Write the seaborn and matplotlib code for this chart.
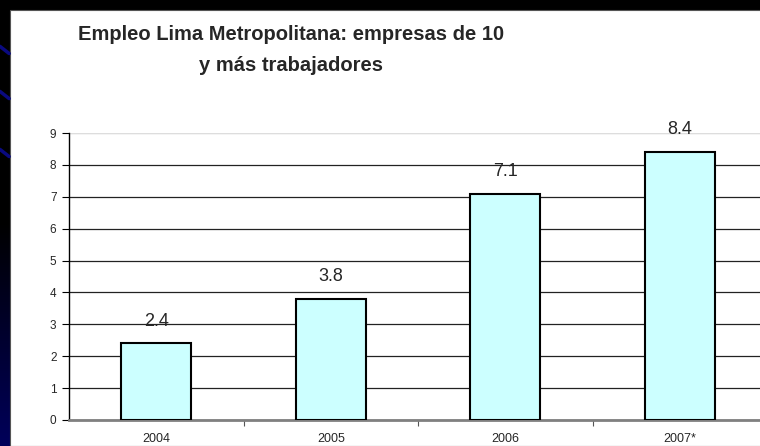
"""Empleo Lima Metropolitana: bar chart of employment growth, firms with 10+ workers."""
import numpy as np
import pandas as pd
import matplotlib
matplotlib.use("Agg")
import matplotlib.pyplot as plt
from matplotlib.patches import Rectangle
from matplotlib.ticker import FixedLocator
import seaborn as sns

years = ["2004", "2005", "2006", "2007*"]
growth = [2.4, 3.8, 7.1, 8.4]
y_ticks = [0, 1, 2, 3, 4, 5, 6, 7, 8, 9]
title = "Empleo Lima Metropolitana: empresas de 10\ny más trabajadores"

BAR = "#CCFFFF"
sns.set_style("white")
plt.rcParams["font.family"] = ["Liberation Sans", "DejaVu Sans"]

df = pd.DataFrame({"year": years, "growth": growth})

fig = plt.figure(figsize=(7.6, 4.46), dpi=100)

# slide background: dark frame with navy gradient on the left
bg = fig.add_axes([0, 0, 1, 1], zorder=-10)
grad = np.linspace(0, 1, 256).reshape(-1, 1)
bg.imshow(grad, extent=[0, 1, 0, 1], aspect="auto", origin="upper",
          cmap=matplotlib.colors.LinearSegmentedColormap.from_list(
              "slide", ["#000000", "#000000", "#00005a"]))
for y0 in [0.888, 0.787, 0.657]:
    bg.plot([0, 0.012], [y0 + 0.008, y0 - 0.008], color="#0a0a80", lw=2.5)
bg.add_patch(Rectangle((10 / 760, 0), 1, 436 / 446, facecolor="white",
                       edgecolor="#555555", lw=0.8))
bg.set_xlim(0, 1); bg.set_ylim(0, 1); bg.axis("off")

fig.text(291 / 760, 1 - 50 / 446, title, ha="center", va="center",
         fontsize=14.5, fontweight="bold", linespacing=1.8)

ax = fig.add_axes([69 / 760, 26 / 446, 698 / 760, 287 / 446])
ax.set_facecolor("none")
sns.barplot(data=df, x="year", y="growth", color=BAR, saturation=1,
            edgecolor="black", linewidth=1.5, width=0.4, ax=ax, zorder=3)

ax.set_xlim(-0.5, 3.5)
ax.set_ylim(0, 9)
ax.set_yticks(y_ticks)
ax.yaxis.grid(True, color="#222222", lw=0.9)
ax.set_axisbelow(True)
for sp in ["top", "right"]:
    ax.spines[sp].set_visible(False)
ax.spines["left"].set_color("black"); ax.spines["left"].set_linewidth(1)
ax.spines["bottom"].set_color("#808080"); ax.spines["bottom"].set_linewidth(2)
ax.axhline(9, color="#dddddd", lw=1, zorder=1)
ax.tick_params(axis="y", left=True, length=5, width=0.8, color="black",
               labelsize=8.5, pad=4)
ax.tick_params(axis="x", bottom=False, labelsize=9, pad=6)
ax.xaxis.set_minor_locator(FixedLocator([0.5, 1.5, 2.5]))
ax.tick_params(axis="x", which="minor", bottom=True, length=4, width=0.8,
               color="#555555", direction="out")
ax.set_xlabel(""); ax.set_ylabel("")
ax.get_ygridlines()[-1].set_color("#dddddd")

for i, v in enumerate(growth):
    ax.annotate(f"{v}", (i, v), xytext=(0, 10), textcoords="offset points",
                ha="center", va="bottom", fontsize=13)

fig.savefig("out.png", dpi=100)
